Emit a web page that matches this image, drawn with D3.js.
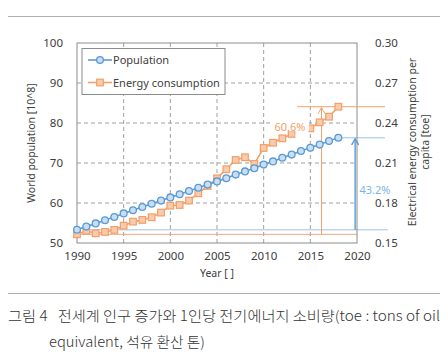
<!DOCTYPE html>
<html><head><meta charset="utf-8">
<script src="https://cdn.jsdelivr.net/npm/d3@7"></script>
<style>body{margin:0;background:#fff}svg{display:block}</style>
</head><body>
<script>
const years = [1990,1991,1992,1993,1994,1995,1996,1997,1998,1999,2000,2001,2002,2003,2004,2005,2006,2007,2008,2009,2010,2011,2012,2013,2014,2015,2016,2017,2018];
const population = [53.3,54.1,54.9,55.7,56.5,57.4,58.2,59.0,59.8,60.6,61.4,62.2,63.0,63.8,64.6,65.4,66.2,67.1,67.9,68.7,69.6,70.4,71.3,72.1,73.0,73.8,74.6,75.5,76.3];
const energy = [0.1565,0.1592,0.1573,0.1583,0.1598,0.163,0.166,0.1673,0.1693,0.1728,0.178,0.1785,0.1818,0.1873,0.1928,0.1985,0.2053,0.2123,0.2143,0.2093,0.2213,0.2252,0.2285,0.2318,0.234,0.236,0.2405,0.2447,0.2522];
const xTicks = [1990,1995,2000,2005,2010,2015,2020];
const leftTicks = [50,60,70,80,90,100];
const rightTicks = [0.15,0.18,0.21,0.24,0.27,0.30];
const seriesNames = ["Population","Energy consumption"];
const growthLabels = ["43.2%","60.6%"];
const captionLines = ["그림 4\u00a0\u00a0\u00a0전세계 인구 증가와 1인당 전기에너지 소비량(toe : tons of oil","equivalent, 석유 환산 톤)"];

const W=448,H=359;
const svg=d3.select("body").append("svg").attr("width",W).attr("height",H);
const x=d3.scaleLinear().domain([1990,2020]).range([77,357]);
const yL=d3.scaleLinear().domain([50,100]).range([243,43]);
const yR=d3.scaleLinear().domain([0.15,0.30]).range([243,43]);
const font="'Noto Sans', 'Open Sans', sans-serif";
const txt="#404040";
const blue="#5B9BD5", blueFill="#C9DEF2", orange="#F29F68", orangeFill="#F8CBAD";

// top & bottom rules
svg.append("line").attr("x1",8).attr("x2",440).attr("y1",16.5).attr("y2",16.5).attr("stroke","#b0b0b0").attr("stroke-width",1.2);
svg.append("line").attr("x1",8).attr("x2",440).attr("y1",293.5).attr("y2",293.5).attr("stroke","#b0b0b0").attr("stroke-width",1.2);

// grid
const grid=svg.append("g").attr("stroke","#a0a0a0").attr("stroke-dasharray","4,3").attr("stroke-width",1);
xTicks.slice(1,-1).forEach(t=>grid.append("line").attr("x1",x(t)).attr("x2",x(t)).attr("y1",43).attr("y2",243));
leftTicks.slice(1,-1).forEach(t=>grid.append("line").attr("x1",77).attr("x2",357).attr("y1",yL(t)).attr("y2",yL(t)));

// frame
svg.append("rect").attr("x",77).attr("y",43).attr("width",280).attr("height",200).attr("fill","none").attr("stroke","#8c8c8c").attr("stroke-width",1);

// axes
const axB=d3.axisBottom(x).tickValues(xTicks).tickFormat(d3.format("d")).tickSize(0).tickPadding(9);
const gB=svg.append("g").attr("transform","translate(0,243)").call(axB);
const axLft=d3.axisLeft(yL).tickValues(leftTicks).tickSize(0).tickPadding(14);
const gL=svg.append("g").attr("transform","translate(77,0)").call(axLft);
const axRt=d3.axisRight(yR).tickValues(rightTicks).tickFormat(d3.format(".2f")).tickSize(0).tickPadding(18);
const gR=svg.append("g").attr("transform","translate(357,0)").call(axRt);
[gB,gL,gR].forEach(g=>{g.select(".domain").remove();g.selectAll("text").attr("font-family",font).attr("font-size",11.5).attr("fill",txt);});

// axis titles
svg.append("text").attr("x",217).attr("y",277).attr("text-anchor","middle").attr("font-family",font).attr("font-size",10.5).attr("fill",txt).text("Year [ ]");
svg.append("text").attr("transform","translate(35,143) rotate(-90)").attr("text-anchor","middle").attr("font-family",font).attr("font-size",10.5).attr("fill",txt).text("World population [10^8]");
svg.append("text").attr("transform","translate(416,142) rotate(-90)").attr("text-anchor","middle").attr("font-family",font).attr("font-size",10.5).attr("fill",txt).text("Electrical energy consumption per");
svg.append("text").attr("transform","translate(429,142) rotate(-90)").attr("text-anchor","middle").attr("font-family",font).attr("font-size",10.5).attr("fill",txt).text("capita [toe]");

// reference lines & arrows
const ann=svg.append("g");
ann.append("line").attr("x1",x(1991.3)).attr("x2",x(2023.3)).attr("y1",yL(population[0])).attr("y2",yL(population[0])).attr("stroke",blue).attr("stroke-opacity",0.6);
ann.append("line").attr("x1",x(1990)).attr("x2",x(2020.1)).attr("y1",yR(energy[0])).attr("y2",yR(energy[0])).attr("stroke",orange).attr("stroke-opacity",0.9);
ann.append("line").attr("x1",x(2018)).attr("x2",x(2023.0)).attr("y1",yL(population[28])).attr("y2",yL(population[28])).attr("stroke",blue).attr("stroke-opacity",0.6);
ann.append("line").attr("x1",x(2013.6)).attr("x2",x(2023.0)).attr("y1",yR(energy[28])).attr("y2",yR(energy[28])).attr("stroke",orange);
function arrow(xp,y0,y1,col,w){
  ann.append("line").attr("x1",xp).attr("x2",xp).attr("y1",y0).attr("y2",y1).attr("stroke",col).attr("stroke-width",w);
  ann.append("path").attr("d",`M${xp-3.5},${y1+6}L${xp},${y1}L${xp+3.5},${y1+6}`).attr("fill","none").attr("stroke",col).attr("stroke-width",w);
}
arrow(x(2016.2),yR(energy[0]),yR(energy[28])+1,orange,1);
arrow(x(2019.8),yL(population[0]),yL(population[28])+1,blue,1.4);

// lines
const lineP=d3.line().x((d,i)=>x(years[i])).y(d=>yL(d));
const lineE=d3.line().x((d,i)=>x(years[i])).y(d=>yR(d));
svg.append("path").attr("d",lineE(energy)).attr("fill","none").attr("stroke",orange).attr("stroke-width",1.6);
svg.append("g").selectAll("rect").data(energy).join("rect")
  .attr("x",(d,i)=>x(years[i])-3.3).attr("y",d=>yR(d)-3.3).attr("width",6.6).attr("height",6.6)
  .attr("fill",orangeFill).attr("stroke",orange).attr("stroke-width",1.2);
svg.append("path").attr("d",lineP(population)).attr("fill","none").attr("stroke",blue).attr("stroke-width",1.6);
svg.append("g").selectAll("circle").data(population).join("circle")
  .attr("cx",(d,i)=>x(years[i])).attr("cy",d=>yL(d)).attr("r",3.4)
  .attr("fill",blueFill).attr("stroke",blue).attr("stroke-width",1.3);

// growth labels (white box covers part of the line, as in the source)
const lb=svg.append("g").attr("font-family",font).attr("font-size",11);
lb.append("rect").attr("x",272).attr("y",119).attr("width",37).attr("height",12).attr("fill","#fff");
lb.append("rect").attr("x",295.5).attr("y",119).attr("width",13).attr("height",18).attr("fill","#fff");
lb.append("text").attr("x",290).attr("y",130.5).attr("text-anchor","middle").attr("fill",orange).text(growthLabels[1]);
lb.append("text").attr("x",375).attr("y",194).attr("text-anchor","middle").attr("fill","#7fb3df").text(growthLabels[0]);

// legend
const lg=svg.append("g");
lg.append("rect").attr("x",82).attr("y",48.5).attr("width",143).attr("height",46).attr("fill","#fff").attr("stroke","#8c8c8c");
lg.append("line").attr("x1",88).attr("x2",112).attr("y1",60).attr("y2",60).attr("stroke",blue).attr("stroke-width",1.6);
lg.append("circle").attr("cx",100).attr("cy",60).attr("r",3.4).attr("fill",blueFill).attr("stroke",blue).attr("stroke-width",1.3);
lg.append("line").attr("x1",88).attr("x2",112).attr("y1",82.5).attr("y2",82.5).attr("stroke",orange).attr("stroke-width",1.6);
lg.append("rect").attr("x",96.7).attr("y",79.2).attr("width",6.6).attr("height",6.6).attr("fill",orangeFill).attr("stroke",orange).attr("stroke-width",1.2);
lg.append("text").attr("x",113).attr("y",64).attr("font-family",font).attr("font-size",11).attr("fill",txt).text(seriesNames[0]);
lg.append("text").attr("x",113).attr("y",86.5).attr("font-family",font).attr("font-size",11).attr("fill",txt).text(seriesNames[1]);

// caption
const cf="'Noto Sans CJK KR', sans-serif";
svg.append("text").attr("x",8).attr("y",320.5).attr("font-family",cf).attr("font-weight",300).attr("font-size",14).attr("fill","#333")
  .attr("textLength",432).attr("lengthAdjust","spacingAndGlyphs").text(captionLines[0]);
svg.append("text").attr("x",49).attr("y",347).attr("font-family",cf).attr("font-weight",300).attr("font-size",14).attr("fill","#333")
  .attr("textLength",156).attr("lengthAdjust","spacingAndGlyphs").text(captionLines[1]);
</script>
</body></html>
